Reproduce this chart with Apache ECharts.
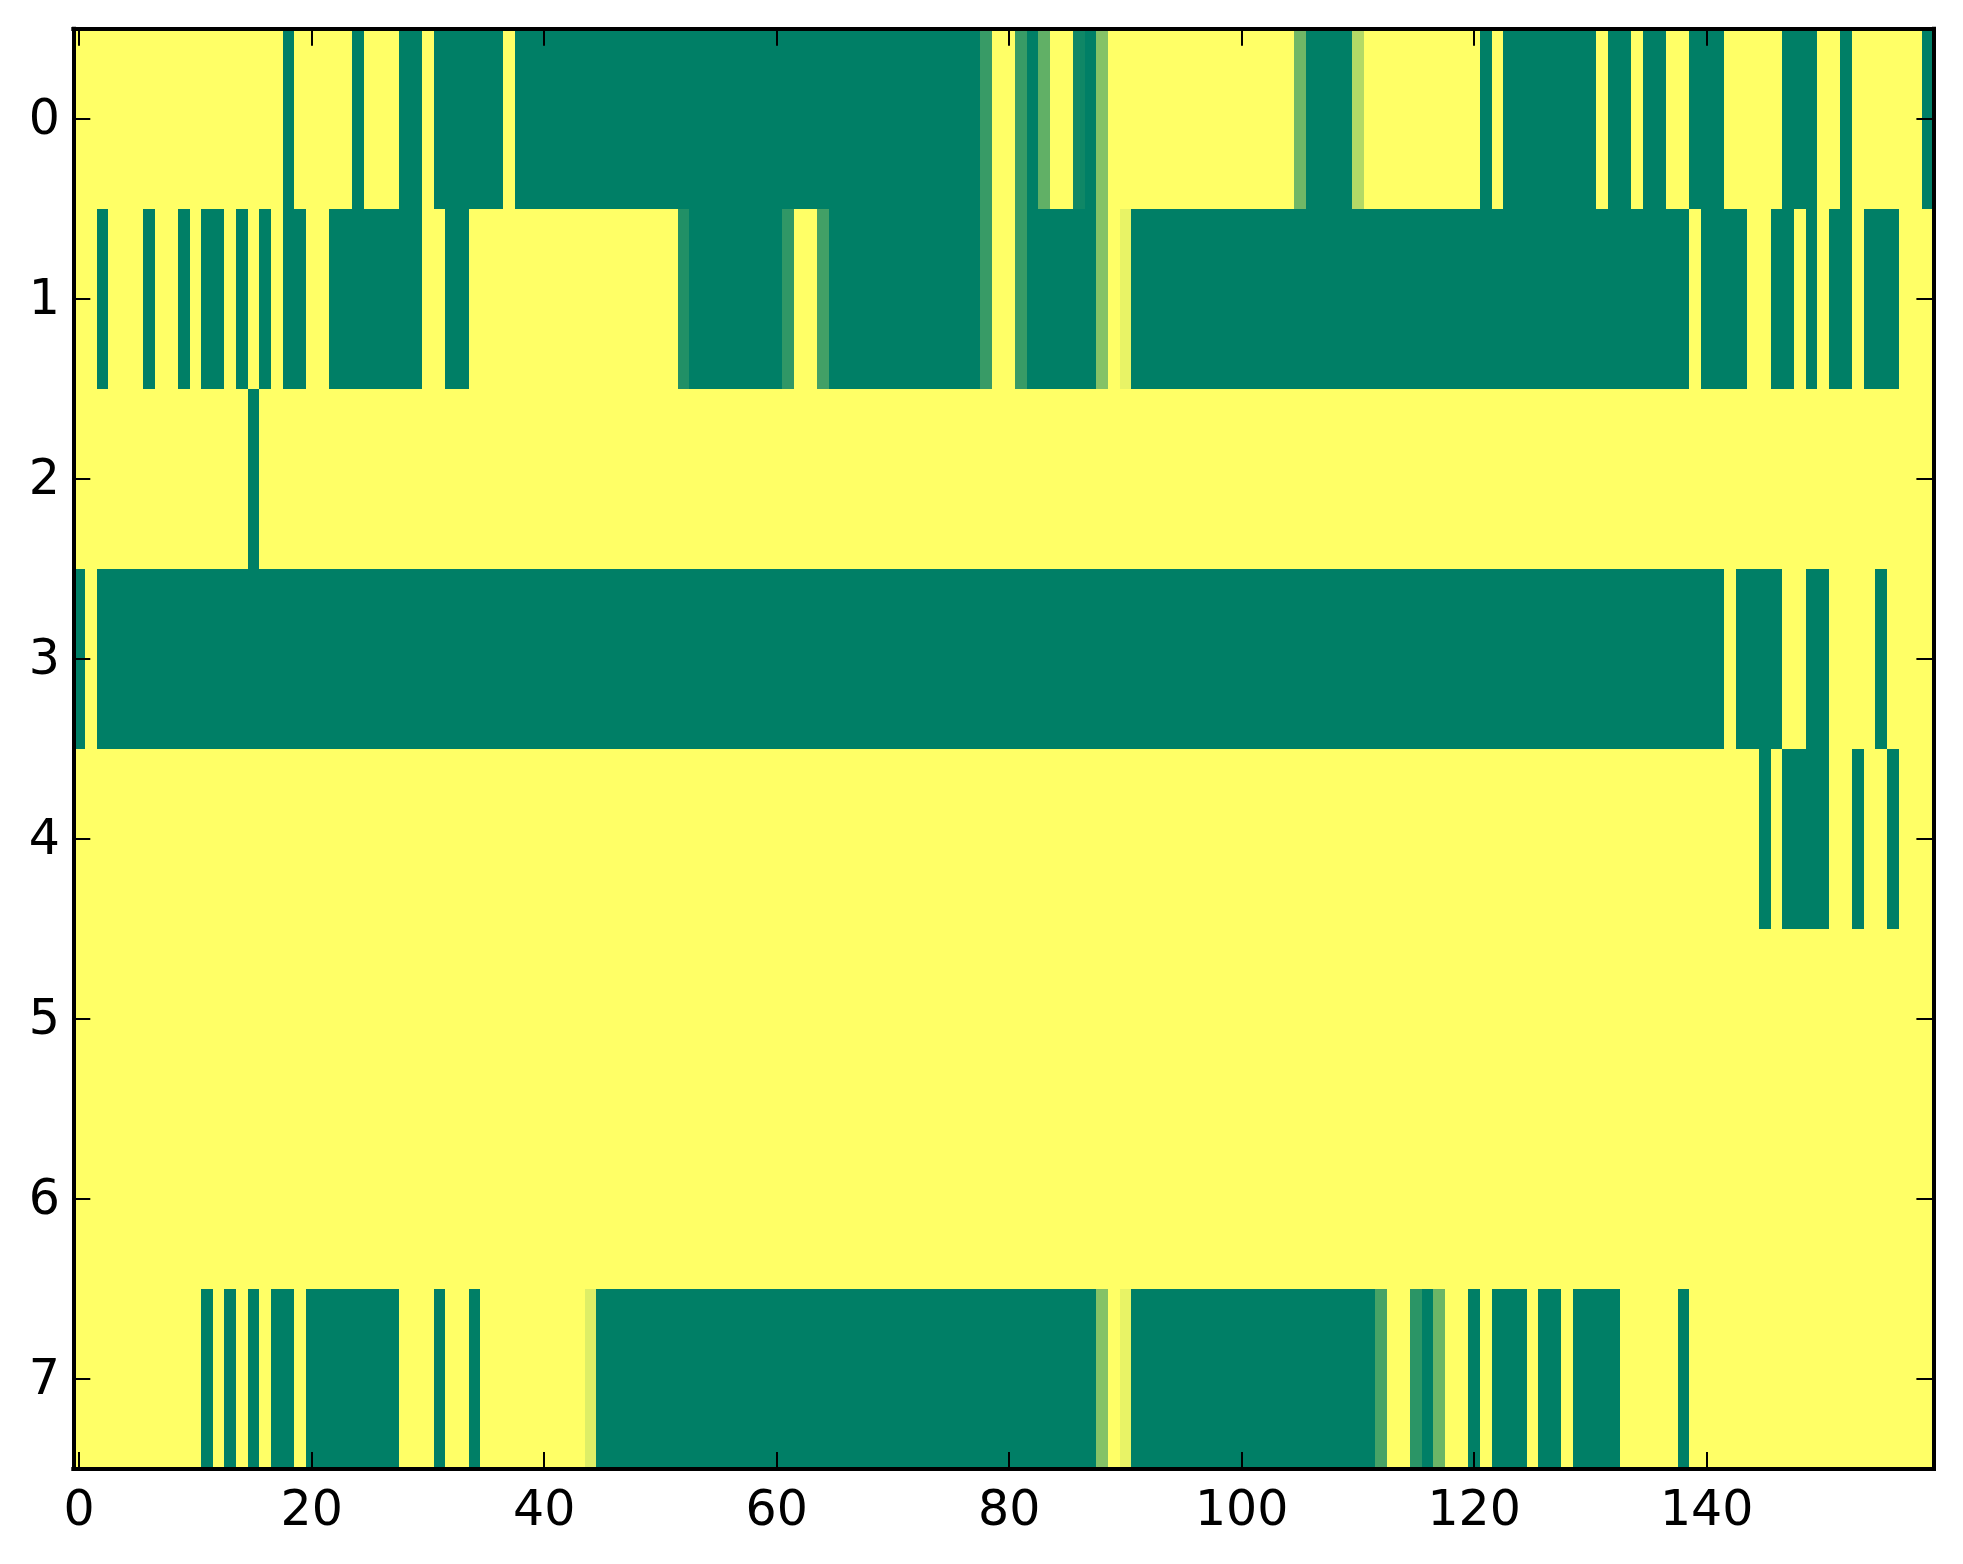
<!DOCTYPE html>
<html>
<head>
<meta charset="utf-8">
<style>html,body{margin:0;padding:0;background:#fff}#c{width:1963px;height:1564px}</style>
<script src="https://cdn.jsdelivr.net/npm/echarts@6/dist/echarts.min.js"></script>
</head>
<body>
<div id="c"></div>
<script>
const xCategories = [
  0,1,2,3,4,5,6,7,8,9,10,11,12,13,14,15,16,17,18,19,
  20,21,22,23,24,25,26,27,28,29,30,31,32,33,34,35,36,37,38,39,
  40,41,42,43,44,45,46,47,48,49,50,51,52,53,54,55,56,57,58,59,
  60,61,62,63,64,65,66,67,68,69,70,71,72,73,74,75,76,77,78,79,
  80,81,82,83,84,85,86,87,88,89,90,91,92,93,94,95,96,97,98,99,
  100,101,102,103,104,105,106,107,108,109,110,111,112,113,114,115,116,117,118,119,
  120,121,122,123,124,125,126,127,128,129,130,131,132,133,134,135,136,137,138,139,
  140,141,142,143,144,145,146,147,148,149,150,151,152,153,154,155,156,157,158,159
];
const yCategories = [0,1,2,3,4,5,6,7];

const row0 = [
  1,1,1,1,1,1,1,1,1,1, 1,1,1,1,1,1,1,1,0,1,
  1,1,1,1,0,1,1,1,0,0, 1,0,0,0,0,0,0,1,0,0,
  0,0,0,0,0,0,0,0,0,0, 0,0,0,0,0,0,0,0,0,0,
  0,0,0,0,0,0,0,0,0,0, 0,0,0,0,0,0,0,0,.22,1,
  1,.22,0,.38,1,1,.06,0,.52,1, 1,1,1,1,1,1,1,1,1,1,
  1,1,1,1,1,.44,0,0,0,0, .70,1,1,1,1,1,1,1,1,1,
  1,0,1,0,0,0,0,0,0,0, 0,1,0,0,1,0,0,1,1,0,
  0,0,1,1,1,1,1,0,0,0, 1,1,0,1,1,1,1,1,1,0
];
const row1 = [
  1,1,0,1,1,1,0,1,1,0, 1,0,0,1,0,1,0,1,0,0,
  1,1,0,0,0,0,0,0,0,0, 1,1,0,0,1,1,1,1,1,1,
  1,1,1,1,1,1,1,1,1,1, 1,1,.13,0,0,0,0,0,0,0,
  0,.19,1,1,.26,0,0,0,0,0, 0,0,0,0,0,0,0,0,.22,1,
  1,.22,0,0,0,0,0,0,.52,1, .91,0,0,0,0,0,0,0,0,0,
  0,0,0,0,0,0,0,0,0,0, 0,0,0,0,0,0,0,0,0,0,
  0,0,0,0,0,0,0,0,0,0, 0,0,0,0,0,0,0,0,0,1,
  0,0,0,0,1,1,0,0,1,0, 1,0,0,1,0,0,0,1,1,1
];
const row2 = [
  1,1,1,1,1,1,1,1,1,1, 1,1,1,1,1,0,1,1,1,1,
  1,1,1,1,1,1,1,1,1,1, 1,1,1,1,1,1,1,1,1,1,
  1,1,1,1,1,1,1,1,1,1, 1,1,1,1,1,1,1,1,1,1,
  1,1,1,1,1,1,1,1,1,1, 1,1,1,1,1,1,1,1,1,1,
  1,1,1,1,1,1,1,1,1,1, 1,1,1,1,1,1,1,1,1,1,
  1,1,1,1,1,1,1,1,1,1, 1,1,1,1,1,1,1,1,1,1,
  1,1,1,1,1,1,1,1,1,1, 1,1,1,1,1,1,1,1,1,1,
  1,1,1,1,1,1,1,1,1,1, 1,1,1,1,1,1,1,1,1,1
];
const row3 = [
  0,1,0,0,0,0,0,0,0,0, 0,0,0,0,0,0,0,0,0,0,
  0,0,0,0,0,0,0,0,0,0, 0,0,0,0,0,0,0,0,0,0,
  0,0,0,0,0,0,0,0,0,0, 0,0,0,0,0,0,0,0,0,0,
  0,0,0,0,0,0,0,0,0,0, 0,0,0,0,0,0,0,0,0,0,
  0,0,0,0,0,0,0,0,0,0, 0,0,0,0,0,0,0,0,0,0,
  0,0,0,0,0,0,0,0,0,0, 0,0,0,0,0,0,0,0,0,0,
  0,0,0,0,0,0,0,0,0,0, 0,0,0,0,0,0,0,0,0,0,
  0,0,1,0,0,0,0,1,1,0, 0,1,1,1,1,0,1,1,1,1
];
const row4 = [
  1,1,1,1,1,1,1,1,1,1, 1,1,1,1,1,1,1,1,1,1,
  1,1,1,1,1,1,1,1,1,1, 1,1,1,1,1,1,1,1,1,1,
  1,1,1,1,1,1,1,1,1,1, 1,1,1,1,1,1,1,1,1,1,
  1,1,1,1,1,1,1,1,1,1, 1,1,1,1,1,1,1,1,1,1,
  1,1,1,1,1,1,1,1,1,1, 1,1,1,1,1,1,1,1,1,1,
  1,1,1,1,1,1,1,1,1,1, 1,1,1,1,1,1,1,1,1,1,
  1,1,1,1,1,1,1,1,1,1, 1,1,1,1,1,1,1,1,1,1,
  1,1,1,1,1,0,1,0,0,0, 0,1,1,0,1,1,0,1,1,1
];
const row5 = [
  1,1,1,1,1,1,1,1,1,1, 1,1,1,1,1,1,1,1,1,1,
  1,1,1,1,1,1,1,1,1,1, 1,1,1,1,1,1,1,1,1,1,
  1,1,1,1,1,1,1,1,1,1, 1,1,1,1,1,1,1,1,1,1,
  1,1,1,1,1,1,1,1,1,1, 1,1,1,1,1,1,1,1,1,1,
  1,1,1,1,1,1,1,1,1,1, 1,1,1,1,1,1,1,1,1,1,
  1,1,1,1,1,1,1,1,1,1, 1,1,1,1,1,1,1,1,1,1,
  1,1,1,1,1,1,1,1,1,1, 1,1,1,1,1,1,1,1,1,1,
  1,1,1,1,1,1,1,1,1,1, 1,1,1,1,1,1,1,1,1,1
];
const row6 = [
  1,1,1,1,1,1,1,1,1,1, 1,1,1,1,1,1,1,1,1,1,
  1,1,1,1,1,1,1,1,1,1, 1,1,1,1,1,1,1,1,1,1,
  1,1,1,1,1,1,1,1,1,1, 1,1,1,1,1,1,1,1,1,1,
  1,1,1,1,1,1,1,1,1,1, 1,1,1,1,1,1,1,1,1,1,
  1,1,1,1,1,1,1,1,1,1, 1,1,1,1,1,1,1,1,1,1,
  1,1,1,1,1,1,1,1,1,1, 1,1,1,1,1,1,1,1,1,1,
  1,1,1,1,1,1,1,1,1,1, 1,1,1,1,1,1,1,1,1,1,
  1,1,1,1,1,1,1,1,1,1, 1,1,1,1,1,1,1,1,1,1
];
const row7 = [
  1,1,1,1,1,1,1,1,1,1, 1,0,1,0,1,0,1,0,0,1,
  0,0,0,0,0,0,0,0,1,1, 1,0,1,1,0,1,1,1,1,1,
  1,1,1,1,.87,0,0,0,0,0, 0,0,0,0,0,0,0,0,0,0,
  0,0,0,0,0,0,0,0,0,0, 0,0,0,0,0,0,0,0,0,0,
  0,0,0,0,0,0,0,0,.52,1, .91,0,0,0,0,0,0,0,0,0,
  0,0,0,0,0,0,0,0,0,0, 0,0,.28,1,1,.17,0,.42,1,1,
  0,1,0,0,0,1,0,0,1,0, 0,0,0,1,1,1,1,1,0,1,
  1,1,1,1,1,1,1,1,1,1, 1,1,1,1,1,1,1,1,1,1
];
const rows = [row0, row1, row2, row3, row4, row5, row6, row7];

const cells = [];
rows.forEach((row, y) => row.forEach((v, x) => cells.push([x, y, v])));

const everyTwenty = (i) => i % 20 === 0;
const spine = { show: true, onZero: false, lineStyle: { color: '#000', width: 4, cap: 'square' } };
const xTick = { show: true, inside: true, length: 17, alignWithLabel: true, interval: everyTwenty, lineStyle: { color: '#000', width: 2 } };
const yTick = { show: true, inside: true, length: 17, alignWithLabel: true, lineStyle: { color: '#000', width: 2 } };
const font = { fontFamily: 'DejaVu Sans', fontSize: 49, color: '#000' };

function renderCell(params, api) {
  const x = api.value(0), y = api.value(1);
  const c = api.coord([x, y]);
  const s = api.size([1, 1]);
  const x0 = Math.round(c[0] - s[0] / 2), x1 = Math.round(c[0] + s[0] / 2);
  const y0 = Math.round(c[1] - s[1] / 2), y1 = Math.round(c[1] + s[1] / 2);
  return {
    type: 'rect',
    shape: { x: x0, y: y0, width: x1 - x0, height: y1 - y0 },
    style: { fill: api.visual('color') }
  };
}

const chart = echarts.init(document.getElementById('c'), null, { renderer: 'canvas', width: 1963, height: 1564 });
chart.setOption({
  animation: false,
  backgroundColor: '#fff',
  grid: { left: 73.3, right: 29.6, top: 28.8, bottom: 95, containLabel: false },
  xAxis: [
    { type: 'category', position: 'bottom', data: xCategories, z: 10, axisLine: spine, axisTick: xTick,
      axisLabel: { ...font, interval: everyTwenty, margin: 18.5 }, splitLine: { show: false } },
    { type: 'category', position: 'top', data: xCategories, z: 10, axisLine: spine, axisTick: xTick,
      axisLabel: { show: false }, splitLine: { show: false } }
  ],
  yAxis: [
    { type: 'category', position: 'left', inverse: true, data: yCategories, z: 10, axisLine: spine, axisTick: yTick,
      axisLabel: { ...font, margin: 13.4, formatter: (v) => '{a|' + v + '}', rich: { a: { ...font, padding: [4, 0, 0, 0] } } }, splitLine: { show: false } },
    { type: 'category', position: 'right', inverse: true, data: yCategories, z: 10, axisLine: spine, axisTick: yTick,
      axisLabel: { show: false }, splitLine: { show: false } }
  ],
  visualMap: { show: false, type: 'continuous', min: 0, max: 1, dimension: 2, seriesIndex: 0, inRange: { color: ['#007F66', '#FFFF66'] } },
  series: [{ type: 'custom', coordinateSystem: 'cartesian2d', xAxisIndex: 0, yAxisIndex: 0, data: cells, encode: { x: 0, y: 1 }, renderItem: renderCell, progressive: 0, silent: true, clip: true }]
});
</script>
</body>
</html>
